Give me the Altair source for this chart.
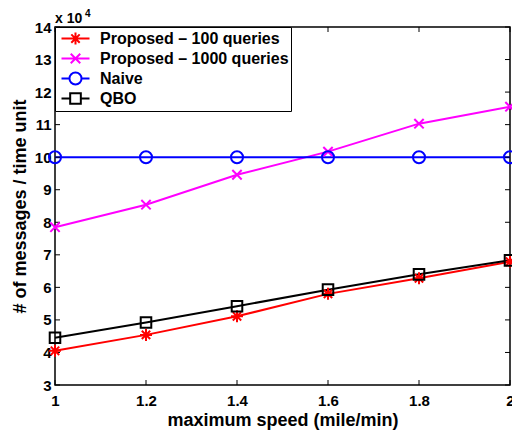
import altair as alt
import pandas as pd

# ---- data ----
speed = [1.0, 1.2, 1.4, 1.6, 1.8, 2.0]
series_names = ["Proposed – 100 queries", "Proposed – 1000 queries", "Naive", "QBO"]
prop100 = [40500, 45400, 51100, 58000, 62800, 67900]
prop1000 = [78500, 85400, 94600, 101700, 110300, 115500]
naive = [100000, 100000, 100000, 100000, 100000, 100000]
qbo = [44500, 49200, 54200, 59300, 64000, 68300]
colors = ["#ff0000", "#ff00ff", "#0000ff", "#000000"]
y_ticks = [30000, 40000, 50000, 60000, 70000, 80000, 90000, 100000,
           110000, 120000, 130000, 140000]
x_ticks = [1.0, 1.2, 1.4, 1.6, 1.8, 2.0]

rows = []
for name, vals in zip(series_names, [prop100, prop1000, naive, qbo]):
    for s, v in zip(speed, vals):
        rows.append({"series": name, "speed": s, "value": v})
df = pd.DataFrame(rows)

W, H = 455, 358
FONT = "Liberation Sans"

# marker paths (unit coords, scaled by sqrt(size)/2)
marker_paths = [
    "M-1,0H1M0,-1V1M-0.7,-0.7L0.7,0.7M-0.7,0.7L0.7,-0.7",
    "M-0.78,-0.78L0.78,0.78M-0.78,0.78L0.78,-0.78",
    "M1,0A1,1 0 1,1 -1,0A1,1 0 1,1 1,0Z",
    "M-0.88,-0.88H0.88V0.88H-0.88Z",
]
m = 0.43
legend_paths = [
    "M-1,0H1M0,-{m}V{m}M-{d},-{d}L{d},{d}M-{d},{d}L{d},-{d}".format(m=m, d=0.3),
    "M-1,0H1M-{d},-{d}L{d},{d}M-{d},{d}L{d},-{d}".format(d=0.34),
    "M-1,0H-{m}M{m},0H1M{m},0A{m},{m} 0 1,1 -{m},0A{m},{m} 0 1,1 {m},0Z".format(m=m),
    "M-1,0H-{s}M{s},0H1M-{s},-{s}H{s}V{s}H-{s}Z".format(s=0.38),
]

xs = alt.Scale(domain=[1, 2], nice=False, zero=False)
ysc = alt.Scale(domain=[30000, 140000], nice=False, zero=False)

x_axis = alt.Axis(values=x_ticks, format="~g", title="maximum speed (mile/min)",
                  ticks=False, tickSize=0, domain=False, grid=False,
                  labelOverlap=False, labelFlush=False,
                  labelPadding=8, titlePadding=3)
y_axis = alt.Axis(values=y_ticks, labelExpr="datum.value / 10000",
                  title="# of messages / time unit",
                  ticks=False, tickSize=0, domain=False, grid=False,
                  labelOverlap=False, labelFlush=False,
                  labelPadding=4, titlePadding=5)
x_enc = alt.X("speed:Q", scale=xs, axis=x_axis)
y_enc = alt.Y("value:Q", scale=ysc, axis=y_axis)

color_scale = alt.Scale(domain=series_names, range=colors)

lines = alt.Chart(df).mark_line(strokeWidth=2).encode(
    x=x_enc, y=y_enc,
    color=alt.Color("series:N", scale=color_scale, legend=None),
)
points = alt.Chart(df).mark_point(filled=False, size=144, strokeWidth=2, opacity=1).encode(
    x=x_enc, y=y_enc,
    color=alt.Color("series:N", scale=color_scale, legend=None),
    shape=alt.Shape("series:N", scale=alt.Scale(domain=series_names, range=marker_paths), legend=None),
)
leg = alt.Legend(title=None, orient="none", legendX=0, legendY=0, direction="vertical",
                 strokeColor="black", fillColor="white", padding=2, symbolOffset=3.5,
                 symbolSize=784, symbolStrokeWidth=2, symbolOpacity=1,
                 labelFont=FONT, labelFontSize=16, labelFontWeight="bold", labelColor="black",
                 labelOffset=9.5, labelLimit=400, clipHeight=19.1, rowPadding=0)
legend_layer = alt.Chart(df).mark_point(filled=False, opacity=0, strokeWidth=2).encode(
    x=x_enc, y=y_enc,
    color=alt.Color("series:N", scale=color_scale, legend=leg),
    shape=alt.Shape("series:N", scale=alt.Scale(domain=series_names, range=legend_paths), legend=leg),
)

ytick_df = pd.DataFrame({"value": y_ticks})
xtick_df = pd.DataFrame({"speed": x_ticks})
yt_left = alt.Chart(ytick_df).mark_rule(color="black", strokeWidth=1).encode(
    y=y_enc, x=alt.value(0), x2=alt.value(5))
yt_right = alt.Chart(ytick_df).mark_rule(color="black", strokeWidth=1).encode(
    y=y_enc, x=alt.value(W - 5), x2=alt.value(W))
xt_bot = alt.Chart(xtick_df).mark_rule(color="black", strokeWidth=1).encode(
    x=x_enc, y=alt.value(H - 5), y2=alt.value(H))
xt_top = alt.Chart(xtick_df).mark_rule(color="black", strokeWidth=1).encode(
    x=x_enc, y=alt.value(0), y2=alt.value(5))

exp_base = alt.Chart(pd.DataFrame({"t": ["x 10"]})).mark_text(
    align="left", baseline="alphabetic", font=FONT, fontSize=14, fontWeight="bold", color="black"
).encode(text="t:N", x=alt.value(0), y=alt.value(-4))
exp_sup = alt.Chart(pd.DataFrame({"t": ["4"]})).mark_text(
    align="left", baseline="alphabetic", font=FONT, fontSize=10, fontWeight="bold", color="black"
).encode(text="t:N", x=alt.value(30), y=alt.value(-10))

chart = alt.layer(
    lines, yt_left, yt_right, xt_bot, xt_top, points, legend_layer, exp_base, exp_sup
).resolve_scale(
    color="independent", shape="independent"
).properties(
    width=W, height=H,
    background="white",
    autosize=alt.AutoSizeParams(type="none"),
    padding={"left": 55, "top": 27, "right": 2, "bottom": 47},
).configure_view(
    stroke="black", strokeWidth=1.5
).configure_axis(
    labelFont=FONT, labelFontSize=15, labelFontWeight="bold", labelColor="black",
    titleFont=FONT, titleFontSize=18, titleFontWeight="bold", titleColor="black",
)

chart.save("out.html", embed_options={"renderer": "svg", "actions": False})
